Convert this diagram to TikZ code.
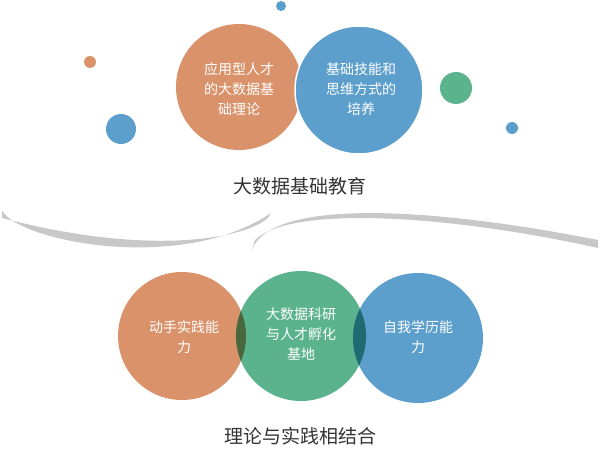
\documentclass[tikz,border=0pt]{standalone}
\usepackage{fontspec}
\newfontfamily\cjk{Noto Sans CJK SC}
\definecolor{orng}{HTML}{D9926A}
\definecolor{grn}{HTML}{5BB38E}
\definecolor{blu}{HTML}{5C9ECC}
\definecolor{ov1}{HTML}{4A673C}
\definecolor{ov2}{HTML}{1E6B72}
\definecolor{swoosh}{HTML}{C8C8C8}
\begin{document}
\begin{tikzpicture}[x=1pt,y=-1pt,
  ctext/.style={text=white,font=\cjk\fontsize{14}{20}\selectfont,align=center},
  ttl/.style={text=black!80,font=\cjk\fontsize{19}{22}\selectfont}]
\useasboundingbox (0,0) rectangle (601,449);
% dots
\fill[blu] (281,6) circle (5);
\fill[orng] (90,62) circle (6);
\fill[blu] (121,129) circle (15);
\fill[grn] (456,88) circle (16);
\fill[blu] (512,128) circle (6);
% top circles
\fill[orng] (239,87) circle (63);
\fill[blu,draw=white,line width=1.5pt] (359,90) circle (64);
\node[ctext] (t1) at (239,89) {应用型人才\\的大数据基\\础理论};
\node[ctext] (t2) at (361,89) {基础技能和\\思维方式的\\培养};
\node[ttl] (title1) at (300,186) {大数据基础教育};
% swooshes
\fill[swoosh] (2,210) .. controls (15,240) and (180,275) .. (271,213)
  .. controls (265,232) and (170,262) .. (2,218) -- cycle;
\fill[swoosh] (252,250) .. controls (270,200) and (420,205) .. (598,240)
  -- (598,248) .. controls (450,215) and (290,205) .. (255,240) -- cycle;
% bottom circles
\fill[orng] (182,336) circle (64);
\fill[grn] (301,336) circle (65);
\fill[blu] (418,338) circle (65);
\begin{scope}
\clip (182,336) circle (64);
\fill[ov1] (301,336) circle (65);
\end{scope}
\begin{scope}
\clip (301,336) circle (65);
\fill[ov2] (418,338) circle (65);
\end{scope}
\node[ctext] (b1) at (184,337) {动手实践能\\力};
\node[ctext] (b2) at (301,334) {大数据科研\\与人才孵化\\基地};
\node[ctext] (b3) at (418,337) {自我学历能\\力};
\node[ttl] (title2) at (300,436) {理论与实践相结合};
\end{tikzpicture}
\end{document}
